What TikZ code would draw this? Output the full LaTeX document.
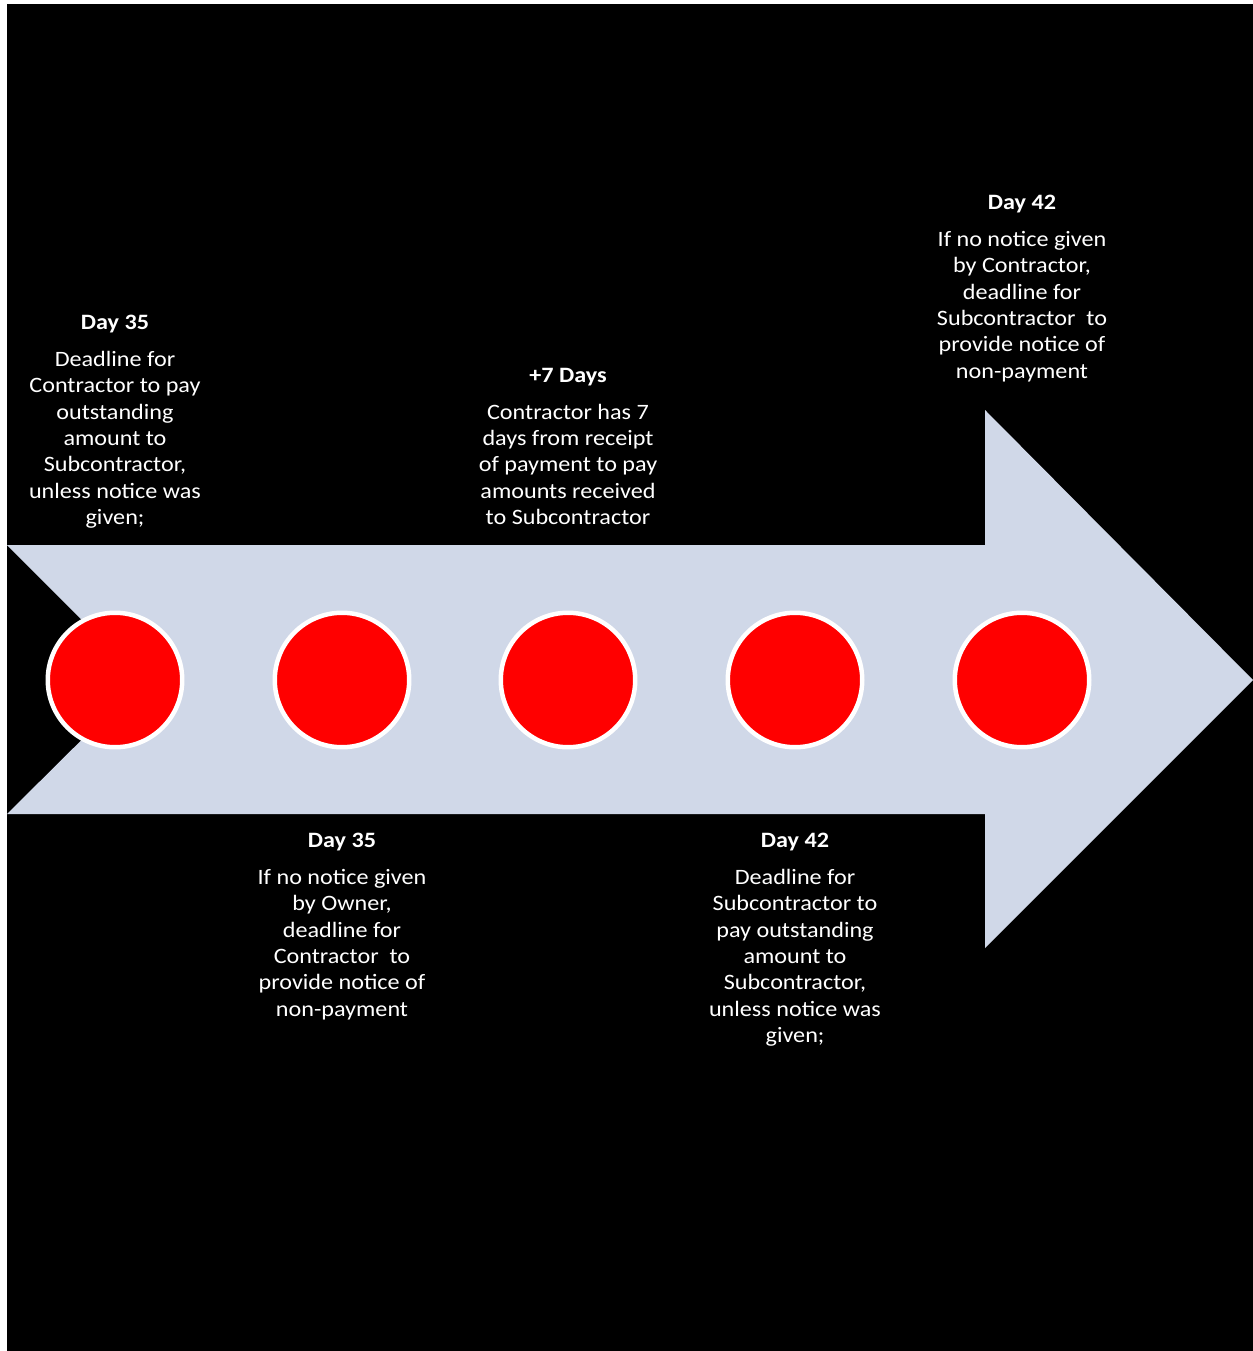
\documentclass[tikz,border=0pt]{standalone}
\usepackage{fontspec}
\setmainfont[FakeStretch=1.1]{Carlito}
\usetikzlibrary{positioning}
\definecolor{shaftblue}{HTML}{D0D8E8}
\definecolor{dotred}{HTML}{FF0000}

\begin{document}
\begin{tikzpicture}[%
        x=0.02cm, y=-0.02cm,
        every node/.style={inner sep=0pt},
        dot/.style={circle, fill=dotred, draw=white, line width=0.09cm, minimum size=2.69cm},
        note/.style={anchor=north, align=center, text=white, font=\fontsize{12.5}{14.96}\selectfont}
      ]
      \useasboundingbox (0,0) rectangle (1253,1351);
      \fill[white] (0,0) rectangle (1253,1351);
      \fill[black] (7,4) rectangle (1253,1351);
      % timeline arrow
      \fill[shaftblue] (7,545) -- (985,545) -- (985,410) -- (1253,680) -- (985,948)
        -- (985,814) -- (7,814) -- (142,680) -- cycle;
      \foreach \x [count=\i] in {115,342,568,795,1022}
        \node [dot] (c\i) at (\x,680) {};
      % labels
      \node [note] (t1) at (c1 |- 0,315) {\textbf{Day 35}\\[6pt]Deadline for\\Contractor to pay\\outstanding\\amount to\\Subcontractor,\\unless notice was\\given;};
      \node [note] (t2) at (c2 |- 0,833) {\textbf{Day 35}\\[6pt]If no notice given\\by Owner,\\deadline for\\Contractor\ \ to\\provide notice of\\non-payment};
      \node [note] (t3) at (c3 |- 0,368) {\textbf{+7 Days}\\[6pt]Contractor has 7\\days from receipt\\of payment to pay\\amounts received\\to Subcontractor};
      \node [note] (t4) at (c4 |- 0,833) {\textbf{Day 42}\\[6pt]Deadline for\\Subcontractor to\\pay outstanding\\amount to\\Subcontractor,\\unless notice was\\given;};
      \node [note] (t5) at (c5 |- 0,195) {\textbf{Day 42}\\[6pt]If no notice given\\by Contractor,\\deadline for\\Subcontractor\ \ to\\provide notice of\\non-payment};
    \end{tikzpicture}
\end{document}
